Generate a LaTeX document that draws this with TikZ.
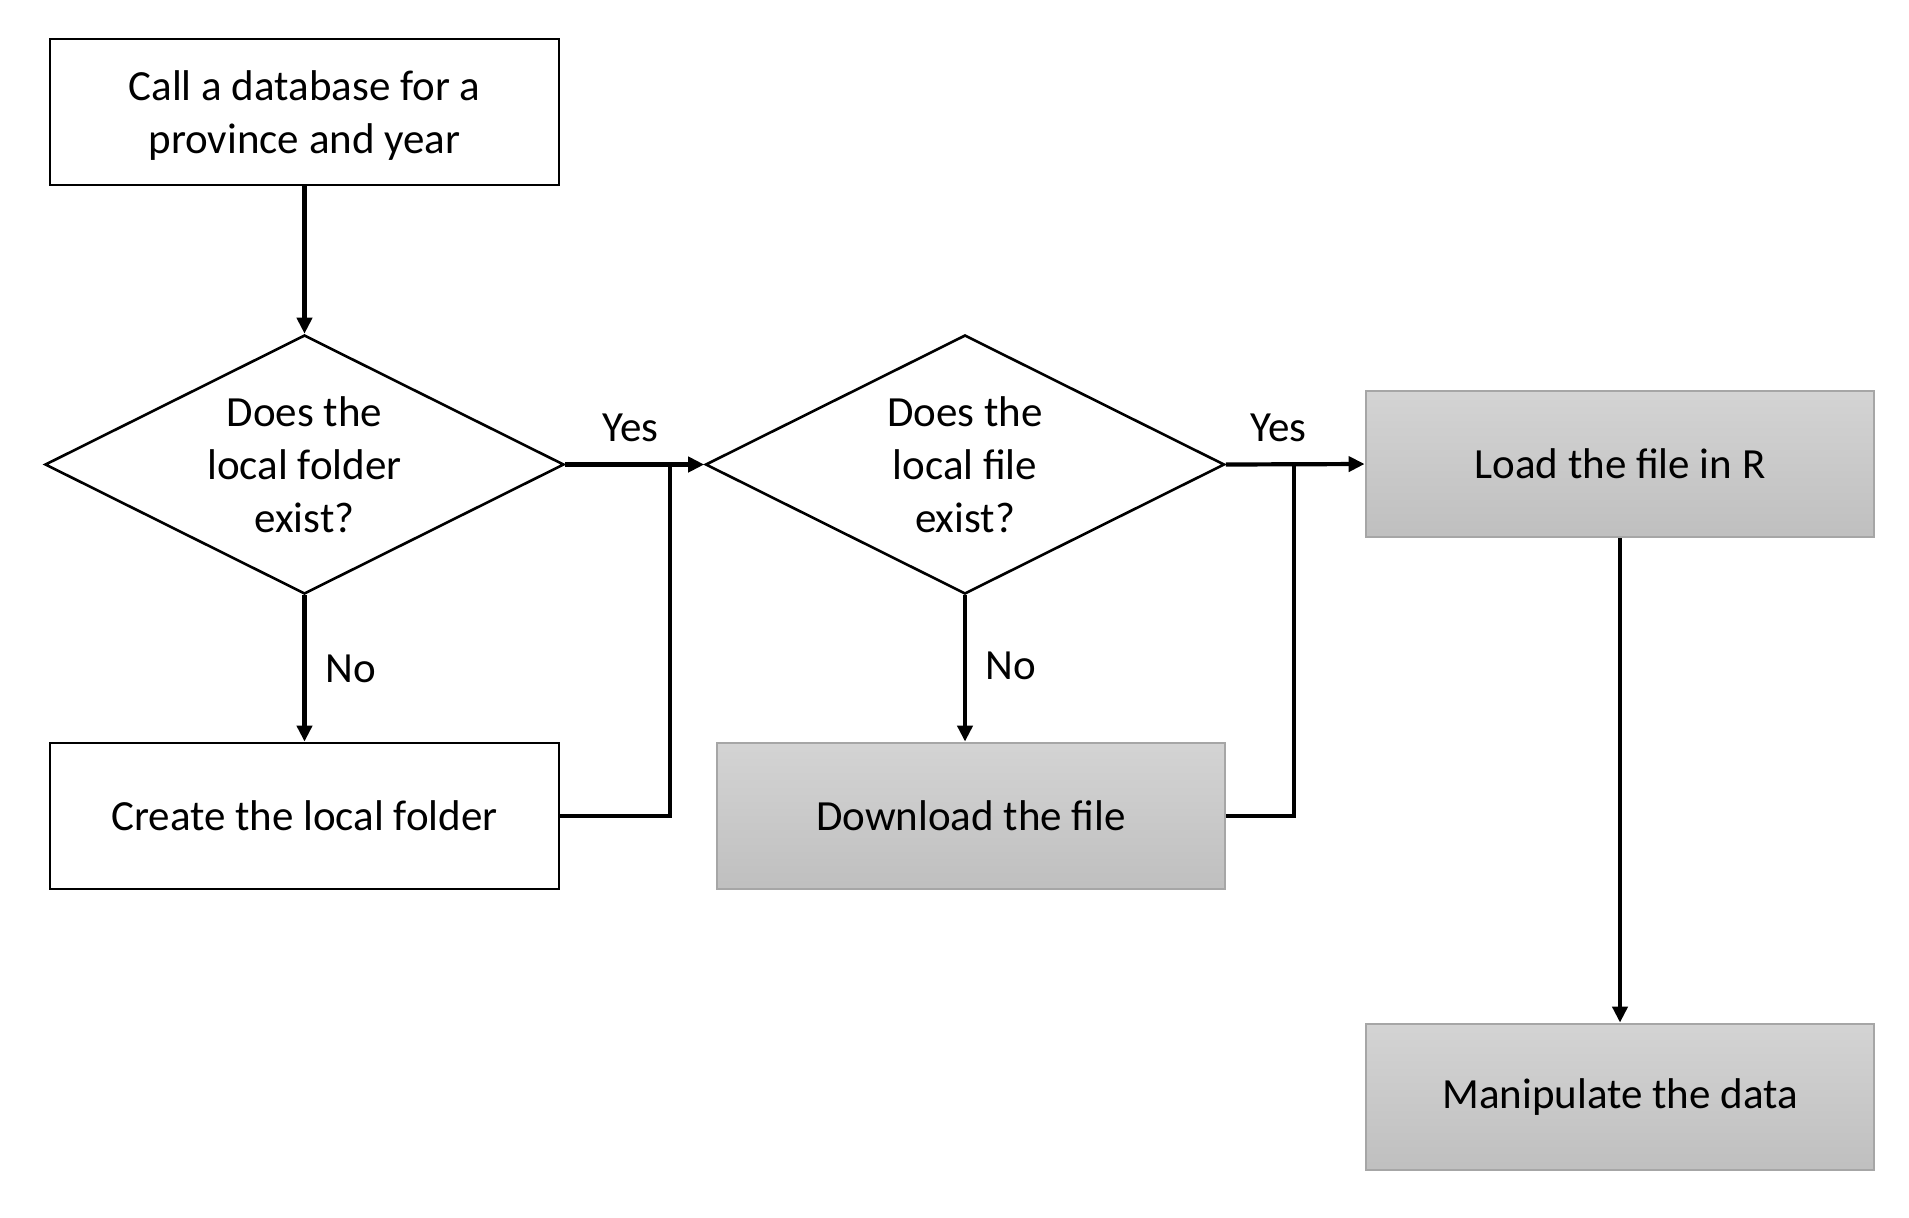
\documentclass[tikz,border=0pt]{standalone}
\usepackage{fontspec}
\setmainfont{Carlito}
\usetikzlibrary{shapes.geometric,arrows.meta}
\begin{document}
\begin{tikzpicture}[x=0.5pt,y=-0.5pt,
  every node/.style={font=\fontsize{21.5}{26.5}\selectfont},
  whitebox/.style={draw=black,line width=1.4pt,fill=white,minimum width=254.5pt,minimum height=73pt,inner sep=0pt,align=center},
  graybox/.style={draw=black!35,line width=1.4pt,top color=black!17,bottom color=black!25,minimum width=254pt,minimum height=73pt,inner sep=0pt,align=center},
  decision/.style={diamond,draw=black,line width=1.3pt,minimum width=259.5pt,minimum height=129.5pt,inner sep=0pt},
  conn/.style={line width=2.1pt,-{Triangle[length=8pt,width=7.5pt]}},
  plain/.style={line width=2.1pt}]
\useasboundingbox (0,0) rectangle (1909,1217);
\node[whitebox] (call) at (304.5,112) {};
\node[align=center] (callt) at (304.5,116) {Call a database for a\\province and year};
\node[decision] (d1) at (304.5,464.5) {};
\node[align=center] (d1t) at (304.5,465) {Does the\\local folder\\exist?};
\node[whitebox] (create) at (304.5,816) {Create the local folder};
\node[decision] (d2) at (965,464.5) {};
\node[align=center] (d2t) at (965,465) {Does the\\local file\\exist?};
\node[graybox] (down) at (971,816) {Download the file};
\node[graybox] (load) at (1620,464) {Load the file in R};
\node[graybox] (manip) at (1620,1097) {Manipulate the data};
\coordinate (j1) at (670,464.5);
\coordinate (j2) at (1294,464.5);
\draw[conn] (call.south) -- (d1.north);
\draw[conn] (d1.south) -- (create.north) node[pos=0.5,right=6pt] (no1) {No};
\draw[conn] (d1.east) -- (d2.west) node[pos=0.47,above=7pt] (yes1) {Yes};
\draw[plain] (create.east) -| (j1);
\draw[conn] (d2.south) -- (d2.south |- down.north) node[pos=0.48,right=6pt] (no2) {No};
\draw[conn] (d2.east) -- (load.west) node[pos=0.38,above=7pt] (yes2) {Yes};
\draw[plain] (down.east) -| (j2);
\draw[conn] (load.south) -- (manip.north);
\end{tikzpicture}
\end{document}
